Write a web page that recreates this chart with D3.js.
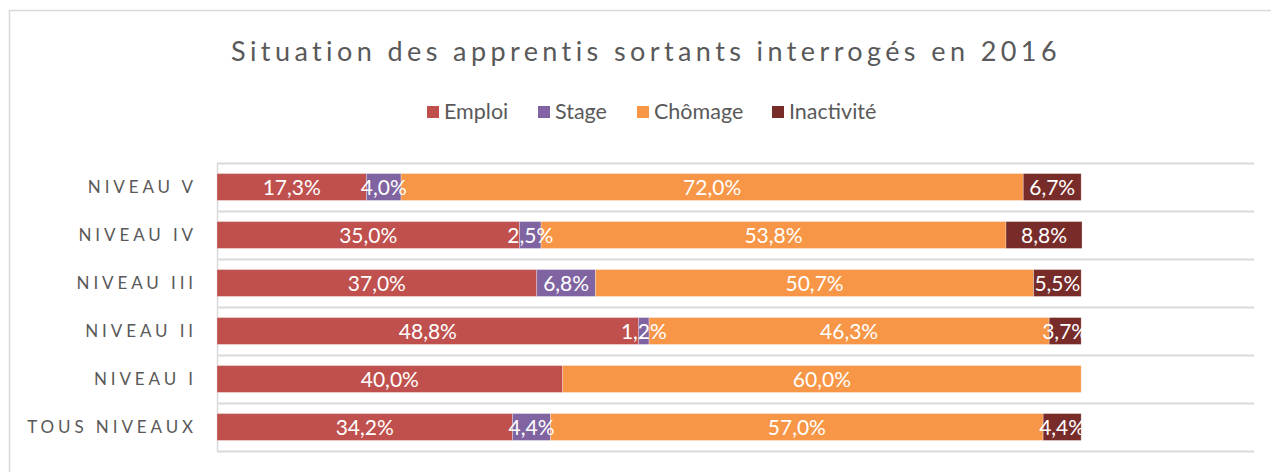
<!DOCTYPE html>
<html>
<head>
<meta charset="utf-8">
<script src="https://cdn.jsdelivr.net/npm/d3@7"></script>
<style>
  body { margin: 0; background: #fff; }
  svg { display: block; font-family: Lato, "Open Sans", sans-serif; }
</style>
</head>
<body>
<div id="chart"></div>
<script>
// Categories (top to bottom)
let categories = ['NIVEAU V', 'NIVEAU IV', 'NIVEAU III', 'NIVEAU II', 'NIVEAU I', 'TOUS NIVEAUX'];
let seriesNames = ['Emploi', 'Stage', 'Chômage', 'Inactivité'];
let seriesColors = ['#C0504D', '#8064A2', '#F79646', '#772C2A'];

// Series values (%)
let emploi     = [17.3, 35.0, 37.0, 48.8, 40.0, 34.2];
let stage      = [4.0, 2.5, 6.8, 1.2, 0, 4.4];
let chomage    = [72.0, 53.8, 50.7, 46.3, 60.0, 57.0];
let inactivite = [6.7, 8.8, 5.5, 3.7, 0, 4.4];

let title = 'Situation des apprentis sortants interrogés en 2016';

let width = 1271, height = 472;
let margin = {top: 163, right: 17, bottom: 21, left: 217};

let svg = d3.select('#chart')
    .append('svg')
    .attr('width', width)
    .attr('height', height);

// Chart border
svg.append('rect')
    .attr('x', 9.5).attr('y', 10.5)
    .attr('width', 1400).attr('height', 600)
    .attr('fill', 'none')
    .attr('stroke', '#d9d9d9')
    .attr('stroke-width', 1.5);

// Title
svg.append('text')
    .attr('x', 646)
    .attr('y', 61)
    .attr('text-anchor', 'middle')
    .attr('font-size', '27px')
    .attr('letter-spacing', '4.4px')
    .attr('fill', '#595959')
    .text(title);

// Legend
let legendX = [427, 538, 637, 772];
let legend = svg.append('g');
seriesNames.forEach(function(name, i) {
    legend.append('rect')
        .attr('x', legendX[i]).attr('y', 106)
        .attr('width', 12).attr('height', 12)
        .attr('fill', seriesColors[i]);
    legend.append('text')
        .attr('x', legendX[i] + 17).attr('y', 119)
        .attr('font-size', '21.5px')
        .attr('fill', '#595959')
        .text(name);
});

// Scales
let plotW = width - margin.left - margin.right;
let plotH = height - margin.top - margin.bottom;

let x = d3.scaleLinear()
    .domain([0, 120])
    .range([0, plotW]);

let y = d3.scaleBand()
    .domain(categories)
    .range([0, plotH])
    .paddingInner(0.44)
    .paddingOuter(0.22);

let g = svg.append('g')
    .attr('transform', 'translate(' + margin.left + ',' + margin.top + ')');

// Category gridlines
let step = plotH / categories.length;
g.selectAll('.grid')
    .data(d3.range(categories.length + 1))
    .enter()
    .append('line')
    .attr('x1', 0).attr('x2', plotW)
    .attr('y1', d => Math.round(d * step) + 0.5)
    .attr('y2', d => Math.round(d * step) + 0.5)
    .attr('stroke', '#d9d9d9')
    .attr('stroke-width', 2);

// Vertical axis line
g.append('line')
    .attr('x1', 0.5).attr('x2', 0.5)
    .attr('y1', 0).attr('y2', plotH)
    .attr('stroke', '#d9d9d9')
    .attr('stroke-width', 1.5);

// Stack data
let rows = categories.map(function(c, i) {
    return {cat: c, 'Emploi': emploi[i], 'Stage': stage[i], 'Chômage': chomage[i], 'Inactivité': inactivite[i]};
});
let stacked = d3.stack().keys(seriesNames)(rows);

let fmt = v => v.toFixed(1).replace('.', ',') + '%';

stacked.forEach(function(layer, i) {
    let lg = g.append('g');
    lg.selectAll('rect')
        .data(layer.filter(d => d[1] - d[0] > 0))
        .enter()
        .append('rect')
        .attr('x', d => x(d[0]))
        .attr('y', d => y(d.data.cat))
        .attr('width', d => x(d[1]) - x(d[0]))
        .attr('height', y.bandwidth())
        .attr('fill', seriesColors[i])
        .attr('stroke', '#fff')
        .attr('stroke-opacity', 0.35)
        .attr('stroke-width', 0.8);
});

// Value labels (drawn after all bars)
stacked.forEach(function(layer) {
    g.append('g').selectAll('text')
        .data(layer.filter(d => d[1] - d[0] > 0))
        .enter()
        .append('text')
        .attr('x', d => (x(d[0]) + x(d[1])) / 2)
        .attr('y', d => y(d.data.cat) + y.bandwidth() / 2)
        .attr('dy', '0.36em')
        .attr('text-anchor', 'middle')
        .attr('font-size', '21px')
        .attr('fill', '#fff')
        .text(d => fmt(d[1] - d[0]));
});

// Category labels
g.selectAll('.cat-label')
    .data(categories)
    .enter()
    .append('text')
    .attr('x', -20)
    .attr('y', d => y(d) + y.bandwidth() / 2)
    .attr('dy', '0.36em')
    .attr('text-anchor', 'end')
    .attr('font-size', '17px')
    .attr('letter-spacing', '3.9px')
    .attr('fill', '#595959')
    .text(d => d);
</script>
</body>
</html>
